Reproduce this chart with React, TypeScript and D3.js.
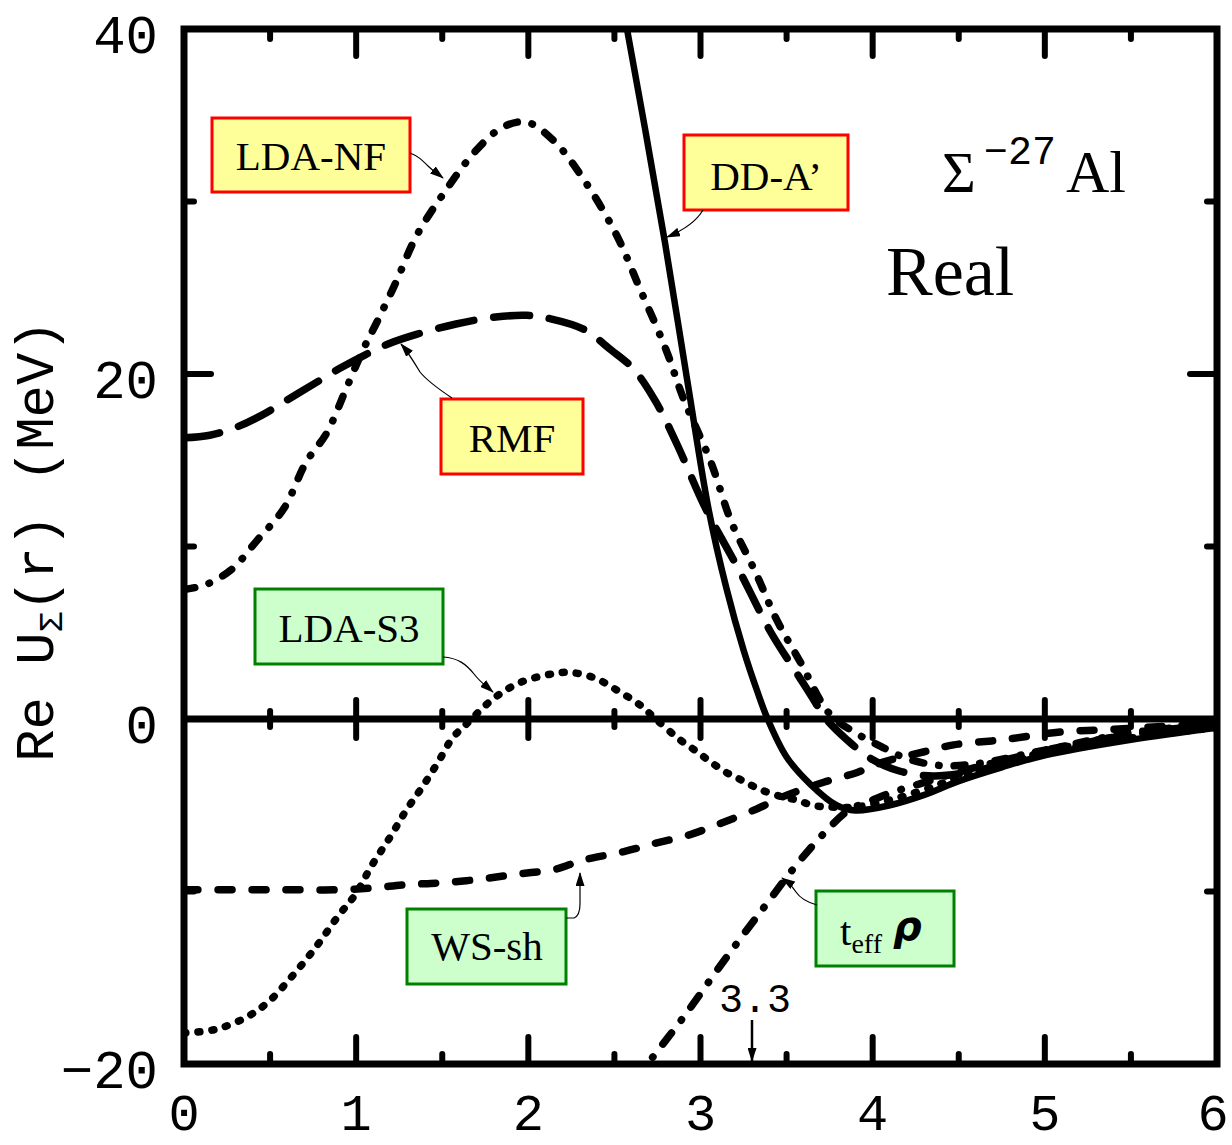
import React from 'react';
import * as d3 from 'd3';

const W = 1232, H = 1145;

const xMajorTicks = [0, 1, 2, 3, 4, 5, 6];
const xMinorTicks = [0.5, 1.5, 2.5, 3.5, 4.5, 5.5];
const yMajorTicks = [-20, 0, 20, 40];
const yMinorTicks = [-10, 10, 30];
const xTickLabels = ['0', '1', '2', '3', '4', '5', '6'];
const yTickLabels = ['\u221220', '0', '20', '40'];

// DD-A' (solid)
const ddaR = [2.55, 2.573, 2.68, 2.794, 2.922, 3.05, 3.15, 3.25, 3.33, 3.39, 3.50, 3.64, 3.79, 3.90, 4.10, 4.30, 4.50, 4.75, 5.00, 5.50, 6.00];
const ddaU = [41.3, 40, 34.1, 27.6, 19.7, 12.0, 7.6, 4.0, 1.6, 0, -2.2, -3.8, -5.0, -5.3, -5.0, -4.4, -3.6, -2.8, -2.1, -1.2, -0.5];

// LDA-NF (dash-dot)
const ldaNfR = [0, 0.13, 0.28, 0.42, 0.58, 0.71, 0.83, 0.94, 1.04, 1.12, 1.23, 1.35, 1.51, 1.70, 1.85, 1.99, 2.15, 2.32, 2.51, 2.65, 2.80, 2.90, 3.06, 3.18, 3.32, 3.44, 3.58, 3.75, 3.90, 4.05, 4.20, 4.40, 4.60, 5.00, 5.50, 6.00];
const ldaNfU = [7.5, 7.8, 8.7, 10.3, 12.2, 14.9, 16.6, 19.1, 21.4, 23.0, 25.3, 28.0, 30.5, 33.0, 34.3, 34.6, 33.5, 31.3, 28.1, 24.9, 21.4, 18.6, 14.9, 11.4, 8.5, 5.8, 3.3, 0.3, -0.8, -1.6, -2.3, -2.7, -2.6, -1.8, -0.8, -0.3];

// RMF (long dash)
const rmfR = [0, 0.15, 0.30, 0.45, 0.60, 0.75, 0.90, 1.05, 1.20, 1.35, 1.58, 1.81, 1.99, 2.13, 2.32, 2.48, 2.61, 2.74, 2.86, 3.03, 3.22, 3.41, 3.55, 3.64, 3.73, 3.85, 3.99, 4.15, 4.35, 4.60, 5.00, 5.50, 6.00];
const rmfU = [16.3, 16.45, 16.9, 17.6, 18.5, 19.4, 20.3, 21.1, 21.8, 22.3, 22.9, 23.3, 23.4, 23.2, 22.6, 21.4, 20.3, 18.4, 16.0, 12.2, 8.7, 5.0, 2.8, 1.4, 0.0, -1.2, -2.3, -3.0, -3.3, -3.0, -1.9, -0.9, -0.3];

// LDA-S3 (dotted)
const ldaS3R = [0, 0.18, 0.36, 0.49, 0.62, 0.76, 0.89, 1.0, 1.09, 1.2, 1.29, 1.38, 1.47, 1.56, 1.64, 1.80, 1.95, 2.13, 2.24, 2.38, 2.51, 2.65, 2.74, 2.88, 2.98, 3.06, 3.15, 3.25, 3.35, 3.47, 3.56, 3.65, 3.75, 3.90, 4.10, 4.30, 4.50, 5.00, 5.50, 6.00];
const ldaS3U = [-18.2, -18.0, -17.3, -16.4, -15.0, -13.3, -11.5, -10.1, -8.5, -6.8, -5.3, -4.0, -2.6, -1.1, -0.3, 1.2, 2.1, 2.6, 2.7, 2.4, 1.7, 0.8, 0.0, -1.2, -1.9, -2.5, -3.1, -3.6, -4.1, -4.5, -4.7, -5.0, -5.1, -5.1, -4.7, -4.1, -3.4, -2.0, -1.1, -0.5];

// WS-sh (short dash)
const wsR = [0, 0.27, 0.49, 0.67, 0.89, 1.09, 1.29, 1.49, 1.71, 1.93, 2.16, 2.31, 2.55, 2.74, 2.94, 3.13, 3.33, 3.48, 3.72, 3.91, 4.06, 4.30, 4.47, 4.76, 5.09, 5.40, 5.83, 6.00];
const wsU = [-9.9, -9.9, -9.9, -9.9, -9.9, -9.8, -9.6, -9.5, -9.3, -9.0, -8.7, -8.2, -7.7, -7.2, -6.7, -6.0, -5.2, -4.5, -3.65, -3.1, -2.5, -1.9, -1.5, -1.2, -0.75, -0.6, -0.35, -0.3];

// t_eff rho (dash-dot)
const teffR = [2.62, 2.70, 2.90, 3.13, 3.37, 3.57, 3.72, 3.86, 4.00, 4.10, 4.26, 4.49, 4.80, 5.10, 5.50, 6.00];
const teffU = [-21, -19.9, -17.3, -14.1, -10.9, -8.3, -6.6, -5.3, -4.7, -4.3, -3.8, -3.1, -2.3, -1.6, -0.9, -0.3];

const zip = (a: number[], b: number[]) => a.map((v, i) => [v, b[i]] as [number, number]);

export default function App() {
  const x = d3.scaleLinear().domain([0, 6]).range([184, 1217]);
  const y = d3.scaleLinear().domain([-20, 40]).range([1064, 29]);
  const line = d3.line<[number, number]>()
    .x(d => x(d[0]))
    .y(d => y(d[1]))
    .curve(d3.curveCatmullRom.alpha(0.5));

  const mono = 'Liberation Mono, Courier New, monospace';
  const serif = 'Liberation Serif, Times New Roman, serif';

  const curves = [
    { d: zip(ddaR, ddaU), dash: 'none', w: 6.5 },
    { d: zip(ldaNfR, ldaNfU), dash: '11 15 0.5 15', w: 7.5 },
    { d: zip(rmfR, rmfU), dash: '36 20', w: 7.5 },
    { d: zip(ldaS3R, ldaS3U), dash: '2 12', w: 7.5 },
    { d: zip(wsR, wsU), dash: '14 20', w: 7.5 },
    { d: zip(teffR, teffU), dash: '14 16 0.5 16', w: 7.5 },
  ];

  const x0 = x(0), x6 = x(6), yTop = y(40), yBot = y(-20), yZero = y(0);

  const boxes = [
    { x: 212, y: 118, w: 198, h: 74, fill: '#ffff99', stroke: '#ff0000' },
    { x: 441, y: 399, w: 142, h: 75, fill: '#ffff99', stroke: '#ff0000' },
    { x: 684, y: 135, w: 164, h: 75, fill: '#ffff99', stroke: '#ff0000' },
    { x: 255, y: 589, w: 188, h: 75, fill: '#ccffcc', stroke: '#008000' },
    { x: 407, y: 909, w: 159, h: 75, fill: '#ccffcc', stroke: '#008000' },
    { x: 816, y: 891, w: 138, h: 75, fill: '#ccffcc', stroke: '#008000' },
  ];

  const arrows = [
    'M410,153 C418,156 422,160 428,166 C434,172 438,174 443,178',
    'M452,398 C440,390 428,382 420,372 C414,362 408,352 401,344',
    'M703,210 C696,222 684,230 667,237',
    'M443,657 C458,658 466,664 474,674 C480,682 486,686 493,692',
    'M566,918 L574,918 C579,916 580,910 580,904 L580,873',
    'M817,905 C806,902 800,898 796,892 C792,886 788,882 782,878',
    'M752,1020 L752,1061',
  ];

  return (
    <svg width={W} height={H} style={{ position: 'absolute', left: 0, top: 0, background: '#fff' }}>
      <defs>
        <clipPath id="plot">
          <rect x={x0} y={yTop} width={x6 - x0} height={yBot - yTop} />
        </clipPath>
        <marker id="ah" markerUnits="userSpaceOnUse" markerWidth={14} markerHeight={9} refX={13} refY={4.5} orient="auto">
          <path d="M0,0 L14,4.5 L0,9 z" fill="#000" />
        </marker>
      </defs>
      <rect width={W} height={H} fill="#fff" />

      {/* curves */}
      <g clipPath="url(#plot)">
        {curves.map((c, i) => (
          <path key={i} d={line(c.d) || ''} fill="none" stroke="#000" strokeWidth={c.w}
            strokeDasharray={c.dash} strokeLinecap="round" strokeLinejoin="round" />
        ))}
      </g>

      {/* zero line */}
      <line x1={x0} x2={x6} y1={yZero} y2={yZero} stroke="#000" strokeWidth={7} />

      {/* ticks */}
      <g stroke="#000" strokeWidth={6} strokeLinecap="round">
        {xMajorTicks.slice(1, -1).map(t => (
          <g key={'xm' + t}>
            <line x1={x(t)} x2={x(t)} y1={yTop} y2={yTop + 27} />
            <line x1={x(t)} x2={x(t)} y1={yBot} y2={yBot - 27} />
            <line x1={x(t)} x2={x(t)} y1={yZero - 19} y2={yZero + 19} />
          </g>
        ))}
        {xMinorTicks.map(t => (
          <g key={'xn' + t}>
            <line x1={x(t)} x2={x(t)} y1={yTop} y2={yTop + 10} />
            <line x1={x(t)} x2={x(t)} y1={yBot} y2={yBot - 10} />
            <line x1={x(t)} x2={x(t)} y1={yZero - 8} y2={yZero + 8} />
          </g>
        ))}
        {yMajorTicks.map(t => (
          <g key={'ym' + t}>
            <line x1={x0} x2={x0 + 27} y1={y(t)} y2={y(t)} />
            <line x1={x6} x2={x6 - 27} y1={y(t)} y2={y(t)} />
          </g>
        ))}
        {yMinorTicks.map(t => (
          <g key={'yn' + t}>
            <line x1={x0} x2={x0 + 10} y1={y(t)} y2={y(t)} />
            <line x1={x6} x2={x6 - 10} y1={y(t)} y2={y(t)} />
          </g>
        ))}
      </g>

      {/* frame */}
      <rect x={x0} y={yTop} width={x6 - x0} height={yBot - yTop} fill="none" stroke="#000" strokeWidth={7} />

      {/* tick labels */}
      <g fontFamily={mono} fontSize={52} fill="#000">
        {xMajorTicks.map((t, i) => (
          <text key={'xl' + t} x={i === 6 ? x(t) - 4 : x(t)} y={1130} textAnchor="middle">{xTickLabels[i]}</text>
        ))}
      </g>
      <g fontFamily={mono} fontSize={54} fill="#000">
        {yMajorTicks.map((t, i) => (
          <text key={'yl' + t} x={158} y={y(t) + 24} textAnchor="end">{yTickLabels[i]}</text>
        ))}
      </g>

      {/* y axis title */}
      <text transform="translate(53,541) rotate(-90)" fontFamily={mono} fontSize={54} textAnchor="middle" fill="#000">
        Re U<tspan fontSize={34} dy={9}>Σ</tspan><tspan dy={-9}>(r) (MeV)</tspan>
      </text>

      {/* annotation texts */}
      <text x={942} y={192} fontFamily={serif} fontSize={58} fill="#000">Σ</text>
      <text x={984} y={164} fontFamily={mono} fontSize={40} fill="#000">{'\u221227'}</text>
      <text x={1066} y={192} fontFamily={serif} fontSize={60} fill="#000">Al</text>
      <text x={886} y={295} fontFamily={serif} fontSize={70} fill="#000">Real</text>

      {/* boxes */}
      {boxes.map((b, i) => (
        <rect key={'b' + i} x={b.x} y={b.y} width={b.w} height={b.h} fill={b.fill} stroke={b.stroke} strokeWidth={3} />
      ))}
      <g fontFamily={serif} fontSize={41} fill="#000" textAnchor="middle">
        <text x={311} y={170}>LDA-NF</text>
        <text x={512} y={452}>RMF</text>
        <text x={766} y={190}>DD-A’</text>
        <text x={349} y={642}>LDA-S3</text>
        <text x={487} y={960}>WS-sh</text>
      </g>
      <text x={840} y={945} fontFamily={serif} fontSize={41} fill="#000">
        t<tspan fontSize={28} dy={8}>eff</tspan>
      </text>
      <text x={893} y={940} fontFamily="DejaVu Sans, sans-serif" fontSize={40} fontStyle="italic" fontWeight="bold" fill="#000">ρ</text>

      {/* arrows */}
      <g fill="none" stroke="#000">
        {arrows.map((d, i) => (
          <path key={'a' + i} d={d} markerEnd="url(#ah)" strokeWidth={i === 6 ? 2.5 : 1.2} />
        ))}
      </g>
      <text x={755} y={1012} fontFamily={mono} fontSize={40} textAnchor="middle" fill="#000">3.3</text>
    </svg>
  );
}
